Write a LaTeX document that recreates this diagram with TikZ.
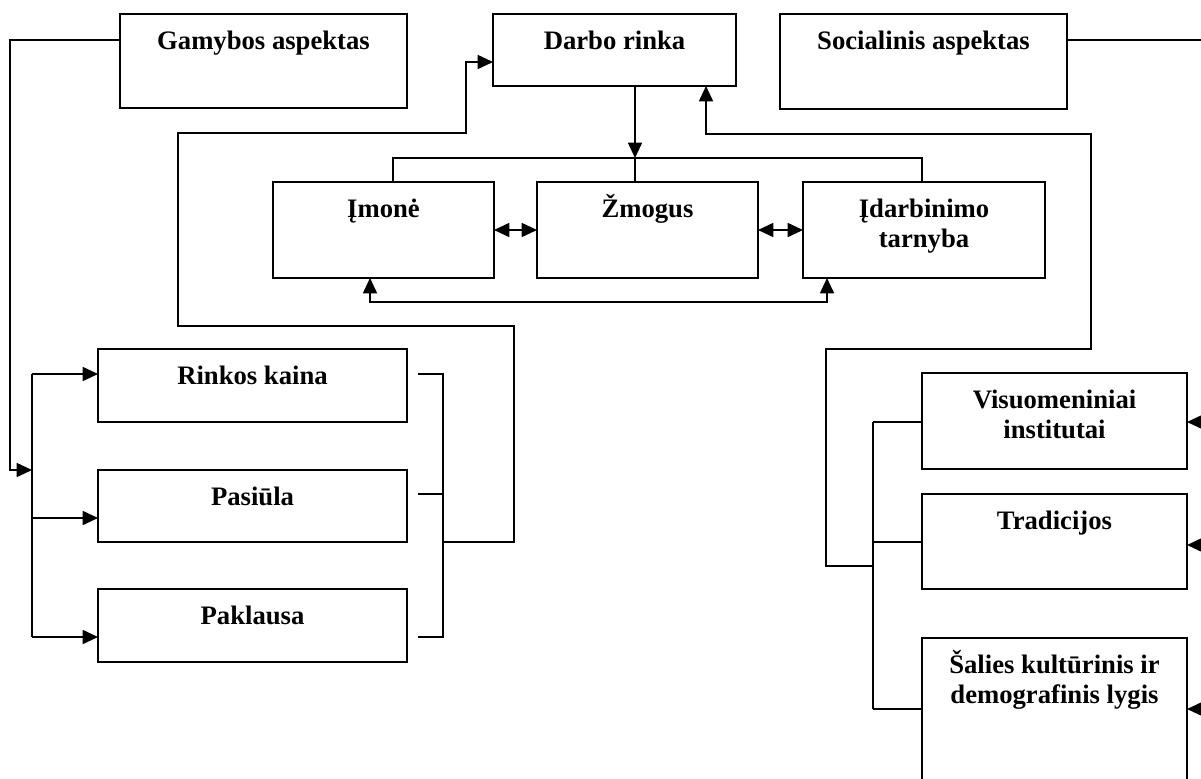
\documentclass[tikz,border=0pt]{standalone}
\usepackage{fontspec}
\setmainfont{Liberation Serif}
\usetikzlibrary{calc,arrows.meta}

\tikzset{
  box/.style={draw, rectangle, line width=2pt, inner sep=0pt, outer sep=0pt, anchor=north west},
  lbl/.style={anchor=base, align=center, inner sep=0pt,
              font=\bfseries\fontsize{20}{22.5}\selectfont},
  conn/.style={line width=1.25pt},
  >={Triangle[length=11.5pt,width=10.5pt]}
}

% box with its caption near the top edge: name, x1, y1, x2, y2, text;
% the optional first argument is the distance from the top edge to the
% baseline of the last caption line
\newcommand\flowbox[7][35.5]{%
  \node[box, minimum width={(#5-#3)*0.75pt}, minimum height={(#6-#4)*0.75pt}] (#2) at (#3,#4) {};
  \node[lbl] (#2-t) at ($(#2.north)+(0,#1)$) {#7};}

\begin{document}
\begin{tikzpicture}[x=0.75pt, y=-0.75pt]
\useasboundingbox (0,0) rectangle (1201,778);
\clip (0,0) rectangle (1201,778);

% top row
\flowbox{gam}{120}{14}{407}{108}{Gamybos aspektas}
\flowbox{darbo}{493}{14}{736}{86}{Darbo rinka}
\flowbox{soc}{780}{14}{1067}{109}{Socialinis aspektas}

% labour market participants
\flowbox{imone}{273}{182}{494}{278}{Įmonė}
\flowbox{zmogus}{537}{182}{758}{278}{Žmogus}
\flowbox[65.5]{idarb}{803}{182}{1045}{278}{Įdarbinimo\\tarnyba}

% production side
\flowbox{rinkos}{98}{349}{407}{422}{Rinkos kaina}
\flowbox{pasiula}{98}{470}{407}{542}{Pasiūla}
\flowbox{paklausa}{98}{589}{407}{662}{Paklausa}

% social side
\flowbox[65.5]{visuom}{922}{373}{1187}{469}{Visuomeniniai\\institutai}
\flowbox{trad}{922}{494}{1187}{589}{Tradicijos}
\flowbox[65.5]{salies}{922}{638}{1187}{795}{Šalies kultūrinis ir\\demografinis lygis}

% junction and bend points
\coordinate (gl) at (10,40);
\coordinate (gj) at (32,470);
\coordinate (lb1) at (32,374);
\coordinate (lb2) at (32,518);
\coordinate (lb3) at (32,637);
\coordinate (rb1) at (418,374);
\coordinate (rb2) at (418,494);
\coordinate (rb3) at (418,637);
\coordinate (rbx) at (443,542);
\coordinate (lp1) at (514,326);
\coordinate (lp2) at (178,133);
\coordinate (lp3) at (466,62);
\coordinate (hc) at (635,158);
\coordinate (h1) at (393,158);
\coordinate (h3) at (922,158);
\coordinate (u1) at (706,134);
\coordinate (u2) at (1091,349);
\coordinate (u3) at (826,566);
\coordinate (rbus) at (873,566);
\coordinate (rv1) at (873,422);
\coordinate (rv2) at (873,542);
\coordinate (rv3) at (873,709);
\coordinate (s1) at (1215,40);
\coordinate (e1) at (1215,422);
\coordinate (e2) at (1215,545);
\coordinate (e3) at (1215,709);
\coordinate (b1) at (370,302);
\coordinate (b2) at (827,302);

% production aspect feeds the left bus
\draw[conn,->] (gam.west |- gl) -- (gl) -- (gl |- gj) -- (gj);
\draw[conn] (lb1) -- (lb3);
\draw[conn,->] (lb1) -- (rinkos.west |- lb1);
\draw[conn,->] (lb2) -- (pasiula.west |- lb2);
\draw[conn,->] (lb3) -- (paklausa.west |- lb3);

% right bracket of the market boxes back up to the labour market
\draw[conn] (rb1) -- (rb1 -| rbx) -- (rb3 -| rbx) -- (rb3);
\draw[conn] (rb2) -- (rb2 -| rbx);
\draw[conn,->] (rbx) -- (rbx -| lp1) -- (lp1) -- (lp1 -| lp2) -- (lp2)
  -- (lp2 -| lp3) -- (lp3) -- (darbo.west |- lp3);

% labour market down to its participants
\draw[conn,->] (darbo.south -| hc) -- (hc);
\draw[conn] (imone.north -| h1) -- (h1) -- (h3) -- (idarb.north -| h3);
\draw[conn] (hc) -- (zmogus.north -| hc);
\draw[conn,<->] (imone.east) -- (zmogus.west);
\draw[conn,<->] (zmogus.east) -- (idarb.west);
\draw[conn,<->] (imone.south -| b1) -- (b1) -- (b2) -- (idarb.south -| b2);

% social bus back up to the labour market
\draw[conn,<-] (darbo.south -| u1) -- (u1) -- (u1 -| u2) -- (u2)
  -- (u2 -| u3) -- (u3) -- (rbus);
\draw[conn] (rv1) -- (rv3);
\draw[conn] (rv1) -- (visuom.west |- rv1);
\draw[conn] (rv2) -- (trad.west |- rv2);
\draw[conn] (rv3) -- (salies.west |- rv3);

% social aspect on the right edge
\draw[conn] (soc.east |- s1) -- (s1);
\draw[conn,->] (e1) -- (visuom.east |- e1);
\draw[conn,->] (e2) -- (trad.east |- e2);
\draw[conn,->] (e3) -- (salies.east |- e3);
\end{tikzpicture}
\end{document}
